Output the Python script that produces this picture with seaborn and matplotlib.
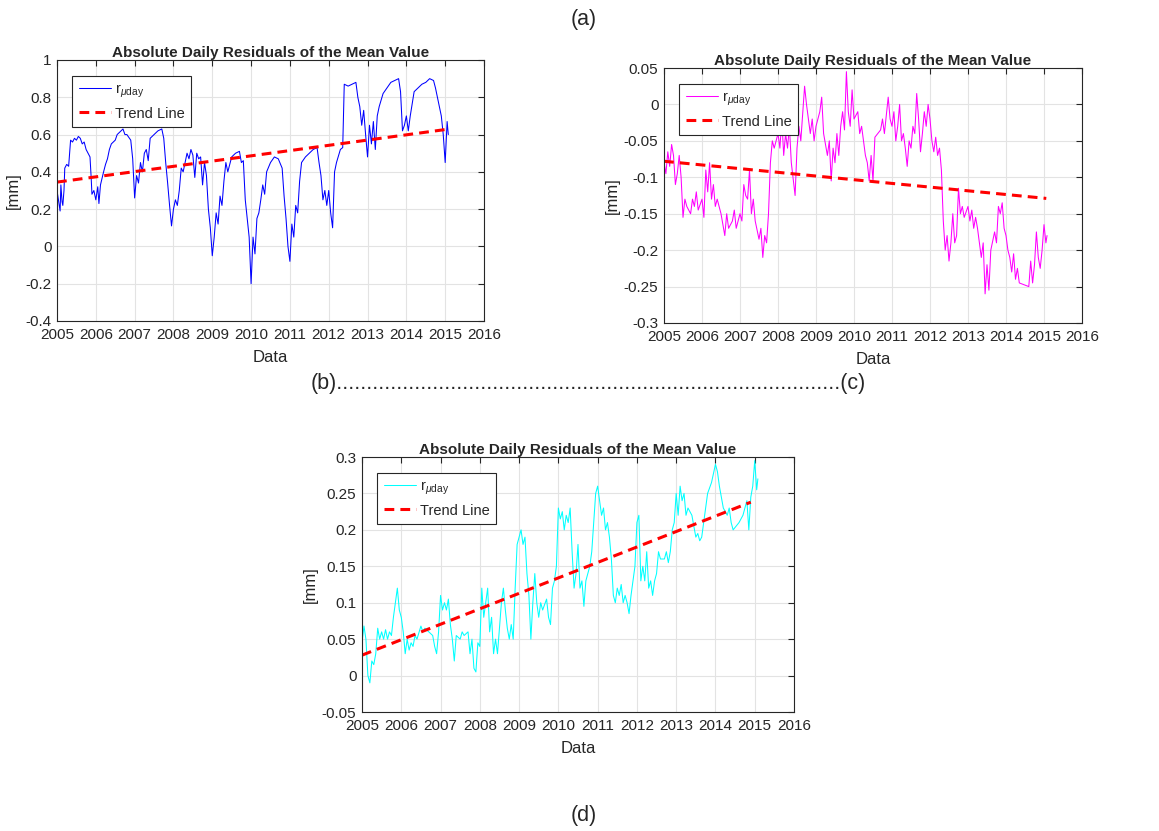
import matplotlib
matplotlib.use("Agg")
import matplotlib.pyplot as plt
import pandas as pd
import seaborn as sns

# ---- daily residual series (decimal year, mm) ----
a_year = [2005.00, 2005.03, 2005.06, 2005.08, 2005.10, 2005.13, 2005.15, 2005.18, 2005.20, 2005.25,
          2005.30, 2005.35, 2005.40, 2005.45, 2005.50, 2005.55, 2005.60, 2005.65, 2005.70, 2005.75,
          2005.80, 2005.85, 2005.88, 2005.90, 2005.95, 2006.00, 2006.05, 2006.08, 2006.12, 2006.20,
          2006.25, 2006.30, 2006.35, 2006.40, 2006.50, 2006.55, 2006.60, 2006.70, 2006.75, 2006.80,
          2006.90, 2006.95, 2007.00, 2007.05, 2007.10, 2007.15, 2007.20, 2007.25, 2007.30, 2007.35,
          2007.40, 2007.50, 2007.60, 2007.70, 2007.75, 2007.80, 2007.85, 2007.90, 2007.95, 2008.00,
          2008.05, 2008.10, 2008.15, 2008.20, 2008.25, 2008.30, 2008.35, 2008.40, 2008.45, 2008.50,
          2008.55, 2008.60, 2008.65, 2008.70, 2008.75, 2008.80, 2008.85, 2008.90, 2008.95, 2009.00,
          2009.05, 2009.10, 2009.15, 2009.20, 2009.25, 2009.30, 2009.35, 2009.40, 2009.50, 2009.60,
          2009.70, 2009.75, 2009.80, 2009.85, 2009.90, 2009.95, 2010.00, 2010.05, 2010.10, 2010.15,
          2010.20, 2010.25, 2010.30, 2010.35, 2010.40, 2010.50, 2010.60, 2010.70, 2010.80, 2010.85,
          2010.90, 2010.95, 2011.00, 2011.05, 2011.10, 2011.15, 2011.20, 2011.25, 2011.30, 2011.40,
          2011.50, 2011.60, 2011.70, 2011.75, 2011.80, 2011.85, 2011.90, 2011.95, 2012.00, 2012.05,
          2012.10, 2012.15, 2012.20, 2012.30, 2012.36, 2012.40, 2012.50, 2012.60, 2012.70, 2012.75,
          2012.80, 2012.85, 2012.90, 2012.95, 2013.00, 2013.05, 2013.10, 2013.15, 2013.20, 2013.25,
          2013.30, 2013.40, 2013.50, 2013.60, 2013.70, 2013.80, 2013.85, 2013.90, 2013.95, 2014.00,
          2014.05, 2014.10, 2014.20, 2014.30, 2014.40, 2014.50, 2014.60, 2014.70, 2014.75, 2014.80,
          2014.85, 2014.90, 2014.95, 2015.00, 2015.05, 2015.08]
a_val = [0.30, 0.26, 0.22, 0.19, 0.33, 0.24, 0.22, 0.30, 0.42, 0.44,
         0.43, 0.57, 0.56, 0.58, 0.57, 0.59, 0.58, 0.55, 0.56, 0.52,
         0.50, 0.48, 0.37, 0.28, 0.30, 0.25, 0.32, 0.23, 0.33, 0.40,
         0.44, 0.47, 0.52, 0.55, 0.57, 0.60, 0.61, 0.63, 0.60, 0.60,
         0.57, 0.47, 0.26, 0.38, 0.34, 0.45, 0.40, 0.50, 0.52, 0.46,
         0.58, 0.60, 0.62, 0.63, 0.58, 0.45, 0.34, 0.22, 0.11, 0.20,
         0.25, 0.22, 0.30, 0.42, 0.40, 0.45, 0.50, 0.47, 0.52, 0.49,
         0.37, 0.50, 0.47, 0.48, 0.33, 0.45, 0.38, 0.20, 0.10, -0.05,
         0.05, 0.18, 0.12, 0.27, 0.22, 0.35, 0.45, 0.40, 0.48, 0.50,
         0.51, 0.45, 0.46, 0.25, 0.15, 0.05, -0.20, 0.05, -0.04, 0.15,
         0.18, 0.25, 0.33, 0.28, 0.40, 0.45, 0.48, 0.47, 0.42, 0.27,
         0.15, 0.00, -0.08, 0.12, 0.05, 0.22, 0.18, 0.35, 0.45, 0.48,
         0.50, 0.52, 0.53, 0.45, 0.38, 0.25, 0.30, 0.22, 0.30, 0.18,
         0.10, 0.40, 0.45, 0.52, 0.53, 0.87, 0.86, 0.87, 0.88, 0.80,
         0.75, 0.65, 0.73, 0.60, 0.48, 0.65, 0.55, 0.67, 0.52, 0.70,
         0.75, 0.82, 0.85, 0.88, 0.89, 0.90, 0.83, 0.62, 0.65, 0.70,
         0.62, 0.70, 0.83, 0.85, 0.87, 0.88, 0.90, 0.89, 0.85, 0.80,
         0.75, 0.70, 0.60, 0.45, 0.67, 0.60]

b_year = [2005.00, 2005.05, 2005.10, 2005.15, 2005.20, 2005.25, 2005.30, 2005.35, 2005.40, 2005.45,
          2005.50, 2005.55, 2005.60, 2005.70, 2005.75, 2005.80, 2005.85, 2005.90, 2006.00, 2006.05,
          2006.10, 2006.15, 2006.20, 2006.25, 2006.30, 2006.35, 2006.40, 2006.50, 2006.55, 2006.60,
          2006.65, 2006.70, 2006.80, 2006.85, 2006.90, 2007.00, 2007.05, 2007.10, 2007.15, 2007.20,
          2007.25, 2007.30, 2007.35, 2007.40, 2007.50, 2007.55, 2007.60, 2007.65, 2007.70, 2007.75,
          2007.80, 2007.85, 2007.90, 2008.00, 2008.05, 2008.10, 2008.15, 2008.20, 2008.25, 2008.30,
          2008.35, 2008.45, 2008.50, 2008.55, 2008.60, 2008.70, 2008.75, 2008.80, 2008.85, 2008.90,
          2008.95, 2009.00, 2009.10, 2009.15, 2009.20, 2009.30, 2009.35, 2009.40, 2009.45, 2009.50,
          2009.55, 2009.60, 2009.65, 2009.70, 2009.75, 2009.80, 2009.85, 2009.90, 2009.95, 2010.00,
          2010.10, 2010.15, 2010.20, 2010.25, 2010.30, 2010.35, 2010.40, 2010.45, 2010.50, 2010.55,
          2010.70, 2010.75, 2010.80, 2010.85, 2010.90, 2010.95, 2011.00, 2011.05, 2011.10, 2011.15,
          2011.20, 2011.25, 2011.30, 2011.35, 2011.40, 2011.45, 2011.50, 2011.55, 2011.60, 2011.65,
          2011.70, 2011.75, 2011.80, 2011.85, 2011.90, 2011.95, 2012.00, 2012.05, 2012.10, 2012.15,
          2012.20, 2012.25, 2012.30, 2012.35, 2012.40, 2012.45, 2012.50, 2012.55, 2012.60, 2012.65,
          2012.70, 2012.75, 2012.80, 2012.85, 2012.90, 2013.00, 2013.05, 2013.10, 2013.15, 2013.20,
          2013.25, 2013.30, 2013.35, 2013.40, 2013.45, 2013.50, 2013.55, 2013.60, 2013.70, 2013.75,
          2013.80, 2013.85, 2013.90, 2013.95, 2014.00, 2014.05, 2014.10, 2014.15, 2014.20, 2014.25,
          2014.30, 2014.35, 2014.60, 2014.65, 2014.70, 2014.75, 2014.80, 2014.85, 2014.90, 2014.95,
          2015.00, 2015.05, 2015.08]
b_val = [-0.080, -0.095, -0.065, -0.085, -0.055, -0.070, -0.110, -0.095, -0.070, -0.100,
         -0.155, -0.130, -0.140, -0.150, -0.130, -0.140, -0.120, -0.145, -0.130, -0.155,
         -0.090, -0.120, -0.080, -0.130, -0.110, -0.140, -0.130, -0.150, -0.165, -0.180,
         -0.150, -0.170, -0.160, -0.145, -0.170, -0.150, -0.160, -0.110, -0.125, -0.130,
         -0.090, -0.150, -0.130, -0.160, -0.185, -0.170, -0.210, -0.180, -0.190, -0.150,
         -0.080, -0.050, -0.060, -0.040, -0.060, -0.020, -0.070, -0.040, -0.060, -0.030,
         -0.080, -0.125, -0.060, -0.030, -0.050, 0.025, 0.000, -0.020, -0.040, -0.020,
         -0.050, -0.030, -0.010, 0.010, -0.040, -0.070, -0.050, -0.105, -0.060, -0.080,
         -0.040, -0.070, -0.030, -0.010, -0.035, 0.045, -0.010, -0.030, 0.020, -0.020,
         -0.010, -0.040, -0.030, -0.050, -0.070, -0.080, -0.105, -0.070, -0.105, -0.045,
         -0.035, -0.020, -0.040, -0.015, 0.010, -0.020, -0.030, -0.010, -0.050, -0.030,
         0.000, -0.050, -0.040, -0.060, -0.085, -0.050, -0.060, -0.030, -0.040, 0.015,
         -0.020, -0.065, -0.040, -0.010, -0.030, 0.000, -0.020, -0.050, -0.065, -0.045,
         -0.070, -0.060, -0.090, -0.160, -0.200, -0.180, -0.215, -0.190, -0.150, -0.190,
         -0.180, -0.115, -0.150, -0.140, -0.155, -0.140, -0.160, -0.145, -0.170, -0.155,
         -0.170, -0.190, -0.210, -0.190, -0.260, -0.220, -0.255, -0.200, -0.175, -0.190,
         -0.140, -0.150, -0.135, -0.170, -0.180, -0.200, -0.210, -0.230, -0.205, -0.240,
         -0.225, -0.245, -0.250, -0.215, -0.245, -0.220, -0.175, -0.210, -0.225, -0.200,
         -0.165, -0.190, -0.180]

c_year = [2005.00, 2005.05, 2005.10, 2005.15, 2005.20, 2005.25, 2005.30, 2005.35, 2005.40, 2005.45,
          2005.50, 2005.55, 2005.60, 2005.65, 2005.70, 2005.75, 2005.80, 2005.85, 2005.90, 2005.95,
          2006.00, 2006.05, 2006.10, 2006.15, 2006.20, 2006.25, 2006.30, 2006.35, 2006.40, 2006.50,
          2006.55, 2006.60, 2006.70, 2006.80, 2006.85, 2006.90, 2006.95, 2007.00, 2007.05, 2007.10,
          2007.15, 2007.20, 2007.25, 2007.30, 2007.35, 2007.40, 2007.50, 2007.55, 2007.60, 2007.70,
          2007.75, 2007.80, 2007.85, 2007.90, 2007.95, 2008.00, 2008.05, 2008.10, 2008.15, 2008.20,
          2008.25, 2008.30, 2008.35, 2008.40, 2008.45, 2008.50, 2008.55, 2008.60, 2008.65, 2008.70,
          2008.75, 2008.80, 2008.85, 2008.90, 2008.95, 2009.00, 2009.05, 2009.10, 2009.15, 2009.20,
          2009.25, 2009.30, 2009.35, 2009.40, 2009.45, 2009.50, 2009.55, 2009.60, 2009.70, 2009.75,
          2009.80, 2009.85, 2009.90, 2009.95, 2010.00, 2010.05, 2010.10, 2010.15, 2010.20, 2010.25,
          2010.30, 2010.35, 2010.40, 2010.45, 2010.50, 2010.55, 2010.60, 2010.65, 2010.70, 2010.80,
          2010.85, 2010.90, 2010.95, 2011.00, 2011.05, 2011.10, 2011.15, 2011.20, 2011.25, 2011.30,
          2011.35, 2011.40, 2011.45, 2011.50, 2011.55, 2011.60, 2011.65, 2011.70, 2011.75, 2011.80,
          2011.85, 2011.90, 2011.95, 2012.00, 2012.05, 2012.10, 2012.15, 2012.20, 2012.25, 2012.30,
          2012.35, 2012.40, 2012.45, 2012.50, 2012.55, 2012.60, 2012.70, 2012.75, 2012.80, 2012.85,
          2012.90, 2012.95, 2013.00, 2013.05, 2013.10, 2013.15, 2013.20, 2013.25, 2013.30, 2013.40,
          2013.50, 2013.55, 2013.60, 2013.65, 2013.70, 2013.80, 2013.90, 2014.00, 2014.05, 2014.10,
          2014.20, 2014.25, 2014.30, 2014.35, 2014.40, 2014.45, 2014.60, 2014.70, 2014.75, 2014.80,
          2014.85, 2014.90, 2014.95, 2015.00, 2015.05, 2015.08]
c_val = [0.045, 0.068, 0.050, 0.000, -0.010, 0.020, 0.015, 0.030, 0.065, 0.050,
         0.060, 0.050, 0.063, 0.050, 0.060, 0.055, 0.080, 0.100, 0.120, 0.090,
         0.080, 0.060, 0.030, 0.050, 0.035, 0.045, 0.040, 0.055, 0.050, 0.068,
         0.060, 0.065, 0.060, 0.055, 0.040, 0.030, 0.060, 0.110, 0.090, 0.100,
         0.090, 0.105, 0.070, 0.050, 0.020, 0.055, 0.050, 0.060, 0.055, 0.060,
         0.030, 0.050, 0.010, 0.005, 0.045, 0.040, 0.120, 0.080, 0.100, 0.120,
         0.060, 0.080, 0.030, 0.050, 0.030, 0.065, 0.100, 0.120, 0.090, 0.065,
         0.050, 0.070, 0.050, 0.120, 0.180, 0.190, 0.200, 0.180, 0.190, 0.140,
         0.110, 0.050, 0.100, 0.140, 0.100, 0.080, 0.100, 0.090, 0.105, 0.080,
         0.070, 0.120, 0.130, 0.150, 0.230, 0.215, 0.225, 0.200, 0.220, 0.210,
         0.230, 0.170, 0.120, 0.140, 0.180, 0.120, 0.130, 0.095, 0.130, 0.150,
         0.170, 0.210, 0.250, 0.260, 0.240, 0.220, 0.230, 0.200, 0.210, 0.190,
         0.160, 0.110, 0.100, 0.120, 0.110, 0.125, 0.100, 0.110, 0.100, 0.085,
         0.110, 0.130, 0.150, 0.210, 0.220, 0.130, 0.150, 0.130, 0.170, 0.120,
         0.130, 0.110, 0.130, 0.140, 0.170, 0.160, 0.160, 0.170, 0.155, 0.170,
         0.200, 0.210, 0.250, 0.220, 0.260, 0.240, 0.250, 0.220, 0.230, 0.220,
         0.190, 0.195, 0.185, 0.190, 0.210, 0.250, 0.265, 0.290, 0.280, 0.260,
         0.230, 0.225, 0.220, 0.230, 0.210, 0.200, 0.210, 0.220, 0.230, 0.240,
         0.200, 0.245, 0.260, 0.295, 0.255, 0.270]

# ---- linear trend lines (end points) ----
a_trend_year = [2005.0, 2015.04]
a_trend_val = [0.345, 0.628]
b_trend_year = [2005.0, 2015.06]
b_trend_val = [-0.078, -0.129]
c_trend_year = [2005.0, 2014.90]
c_trend_val = [0.028, 0.238]

# ---- axis ticks ----
year_ticks = list(range(2005, 2017))
year_labels = [str(y) for y in year_ticks]
a_yticks = [-0.4, -0.2, 0.0, 0.2, 0.4, 0.6, 0.8, 1.0]
a_ylabels = ["-0.4", "-0.2", "0", "0.2", "0.4", "0.6", "0.8", "1"]
b_yticks = [-0.3, -0.25, -0.2, -0.15, -0.1, -0.05, 0.0, 0.05]
b_ylabels = ["-0.3", "-0.25", "-0.2", "-0.15", "-0.1", "-0.05", "0", "0.05"]
c_yticks = [-0.05, 0.0, 0.05, 0.1, 0.15, 0.2, 0.25, 0.3]
c_ylabels = ["-0.05", "0", "0.05", "0.1", "0.15", "0.2", "0.25", "0.3"]

title_text = "Absolute Daily Residuals of the Mean Value"
series_label = r"r$_{\mu\mathrm{day}}$"
trend_label = "Trend Line"

sns.set_style("white")
plt.rcParams["font.family"] = ["Liberation Sans", "DejaVu Sans"]
plt.rcParams["mathtext.fontset"] = "custom"
plt.rcParams["mathtext.rm"] = "Liberation Sans"
plt.rcParams["mathtext.it"] = "Liberation Sans:italic"
plt.rcParams["mathtext.bf"] = "Liberation Sans:bold"

W, H = 1159, 831
fig = plt.figure(figsize=(W / 100, H / 100), dpi=100)
fig.patch.set_facecolor("white")
INK = "#262626"


def panel(box, years, vals, t_years, t_vals, color, yticks, ylabels):
    left, top, right, bottom = box
    ax = fig.add_axes([left / W, 1 - bottom / H, (right - left) / W, (bottom - top) / H])
    df = pd.DataFrame({"year": years, "val": vals})
    tr = pd.DataFrame({"year": t_years, "val": t_vals})
    sns.lineplot(data=df, x="year", y="val", ax=ax, color=color, linewidth=0.75,
                 label=series_label, estimator=None)
    sns.lineplot(data=tr, x="year", y="val", ax=ax, color="#ff0000", linewidth=2.2,
                 label=trend_label, estimator=None)
    ax.lines[-1].set_dashes((3.2, 2.0))
    ax.set_xlim(2005, 2016)
    ax.set_ylim(yticks[0], yticks[-1])
    ax.set_xticks(year_ticks)
    ax.set_xticklabels(year_labels)
    ax.set_yticks(yticks)
    ax.set_yticklabels(ylabels)
    ax.grid(True, color="#e3e3e3", linewidth=0.8)
    ax.set_axisbelow(True)
    for s in ax.spines.values():
        s.set_visible(True)
        s.set_color(INK)
        s.set_linewidth(0.8)
    ax.tick_params(direction="in", length=4, width=0.8, color=INK,
                   top=True, right=True, labelsize=11, labelcolor=INK)
    ax.tick_params(axis="x", pad=5)
    ax.tick_params(axis="y", pad=4)
    ax.set_xlabel("Data", fontsize=12, color=INK, labelpad=6)
    ax.set_ylabel("[mm]", fontsize=12, color=INK, labelpad=3)
    ax.set_title(title_text, fontsize=11, fontweight="bold", pad=2.5)
    axw, axh = right - left, bottom - top
    leg = ax.legend(loc="upper left", bbox_to_anchor=(15 / axw, 1 - 16 / axh),
                    borderaxespad=0, fontsize=10.5, frameon=True, fancybox=False,
                    framealpha=1, edgecolor=INK, handlelength=2.2,
                    handletextpad=0.3, borderpad=0.45, labelspacing=0.45)
    leg.get_frame().set_linewidth(0.8)
    return ax


panel((57, 60, 484, 321), a_year, a_val, a_trend_year, a_trend_val, "#0000ff", a_yticks, a_ylabels)
panel((664, 68, 1082, 323), b_year, b_val, b_trend_year, b_trend_val, "#ff00ff", b_yticks, b_ylabels)
panel((362, 457, 794, 712), c_year, c_val, c_trend_year, c_trend_val, "#00ffff", c_yticks, c_ylabels)

fig.text(584 / W, 1 - 19 / H, "(a)", fontsize=15.5, ha="center", va="center")
fig.text(588 / W, 1 - 383 / H, "(b)" + "." * 84 + "(c)", fontsize=15.5, ha="center", va="center")
fig.text(584 / W, 1 - 816 / H, "(d)", fontsize=15.5, ha="center", va="center")

fig.savefig("out.png", dpi=100)
